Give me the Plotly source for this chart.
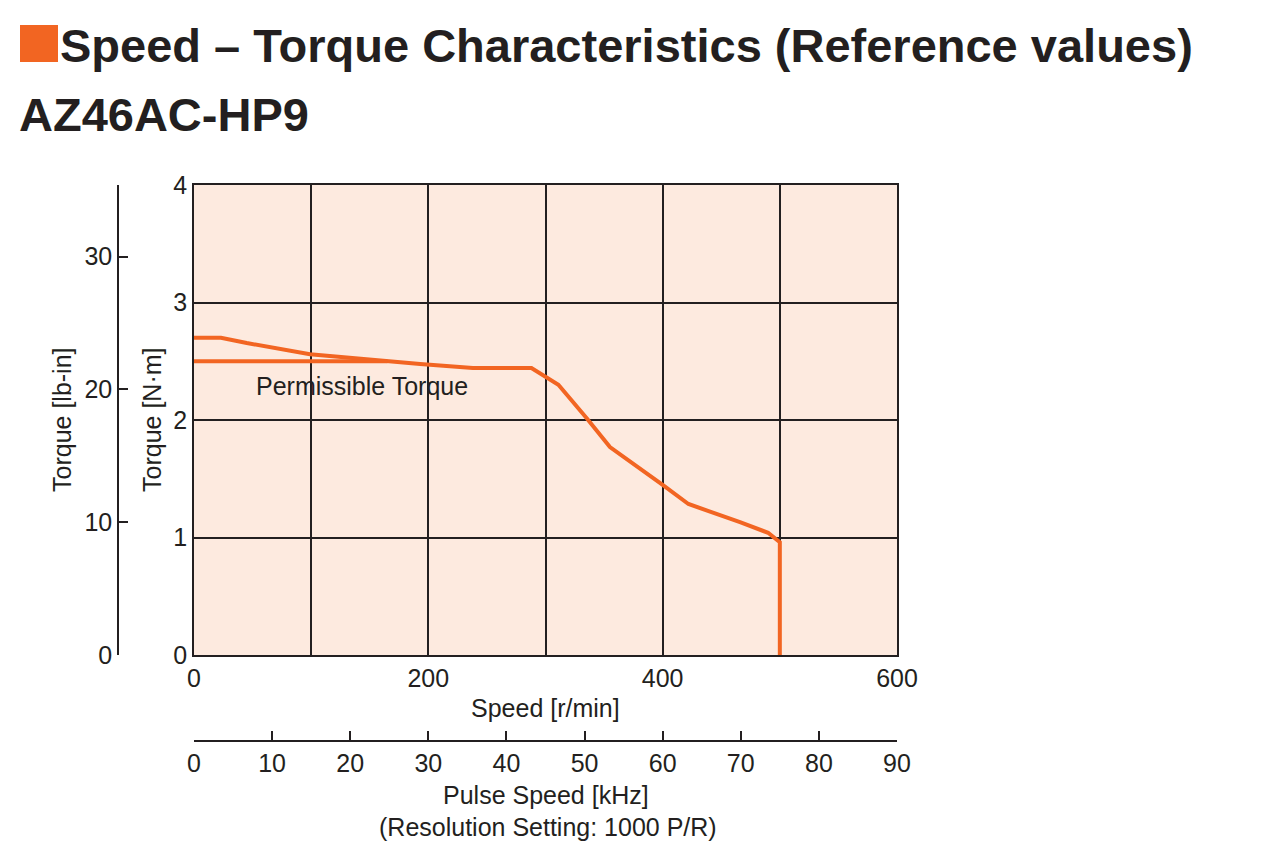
import plotly.graph_objects as go

# speed-torque curve
speed_rpm = [0, 23, 45, 99, 193, 238, 288, 298, 311, 335, 355, 400, 422, 466, 490, 500, 500]
torque_nm = [2.70, 2.70, 2.655, 2.56, 2.477, 2.443, 2.443, 2.383, 2.30, 2.017, 1.77, 1.447, 1.285, 1.13, 1.04, 0.96, 0]

# permissible torque line
perm_speed = [0, 165]
perm_torque = [2.5, 2.5]

speed_ticks = [0, 100, 200, 300, 400, 500, 600]
speed_labels = ["0", "", "200", "", "400", "", "600"]
torque_ticks = [0, 1, 2, 3, 4]
lbin_ticks = [0, 10, 20, 30]
pulse_ticks = [0, 10, 20, 30, 40, 50, 60, 70, 80, 90]

NM_TO_LBIN = 8.8507
W, H = 1280, 853
OFF = 8  # page body margin
ORANGE = "#F26522"
INK = "#231F20"
FONT = "Liberation Sans Narrow, Liberation Sans, Arial"

def px(x):
    return (x - OFF) / W

def py(y):
    return 1 - (y - OFF) / H

fig = go.Figure()

fig.add_trace(go.Scatter(
    x=speed_rpm, y=torque_nm, mode="lines",
    line=dict(color=ORANGE, width=4), showlegend=False, hoverinfo="skip",
))
fig.add_trace(go.Scatter(
    x=perm_speed, y=perm_torque, mode="lines",
    line=dict(color=ORANGE, width=4), showlegend=False, hoverinfo="skip",
))
# empty trace so the secondary axes get drawn
fig.add_trace(go.Scatter(x=[], y=[], xaxis="x2", yaxis="y2", showlegend=False))

tick_font = dict(family=FONT, size=25, color=INK)

fig.update_layout(
    width=W, height=H,
    margin=dict(l=0, r=0, t=0, b=0),
    paper_bgcolor="white",
    plot_bgcolor="#FDEADF",
    font=dict(family=FONT, color=INK),
    xaxis=dict(
        domain=[px(194), px(897)], range=[0, 600], automargin=False,
        tickmode="array", tickvals=speed_ticks, ticktext=speed_labels,
        showgrid=True, gridcolor=INK, gridwidth=1.5,
        showline=True, linecolor=INK, linewidth=1.5, mirror=True,
        ticks="", tickfont=tick_font, zeroline=False, fixedrange=True,
    ),
    yaxis=dict(
        domain=[py(655), py(185)], range=[0, 4], automargin=False,
        tickmode="array", tickvals=torque_ticks,
        showgrid=True, gridcolor=INK, gridwidth=1.5,
        showline=True, linecolor=INK, linewidth=1.5, mirror=True,
        ticks="", tickfont=tick_font, zeroline=False, fixedrange=True,
    ),
    xaxis2=dict(
        overlaying="x", anchor="free", position=py(741), side="bottom",
        range=[0, 90], automargin=False, tickmode="array", tickvals=pulse_ticks,
        showgrid=False, zeroline=False,
        showline=True, linecolor=INK, linewidth=1.5,
        ticks="inside", ticklen=9, tickwidth=1.5, tickcolor=INK,
        tickfont=tick_font, fixedrange=True,
    ),
    yaxis2=dict(
        overlaying="y", anchor="free", position=px(118), side="left",
        range=[0, 4 * NM_TO_LBIN], automargin=False,
        tickmode="array", tickvals=lbin_ticks,
        showgrid=False, zeroline=False,
        showline=True, linecolor=INK, linewidth=1.5,
        ticks="inside", ticklen=9, tickwidth=1.5, tickcolor=INK,
        tickfont=tick_font, fixedrange=True,
    ),
)

# title square
fig.add_shape(type="rect", xref="paper", yref="paper",
              x0=px(20), x1=px(58), y0=py(62), y1=py(25),
              fillcolor=ORANGE, line=dict(width=0))

ann = [
    dict(text="<b>Speed – Torque Characteristics (Reference values)</b>",
         x=px(58), y=py(45), xanchor="left", yanchor="middle",
         font=dict(family="Liberation Sans", size=47, color=INK)),
    dict(text="<b>AZ46AC-HP9</b>",
         x=px(17), y=py(114), xanchor="left", yanchor="middle",
         font=dict(family="Liberation Sans", size=47, color=INK)),
    dict(text="Permissible Torque", x=px(362), y=py(386),
         xanchor="center", yanchor="middle",
         font=dict(family=FONT, size=25, color=INK)),
    dict(text="Speed [r/min]", x=px(545), y=py(708),
         xanchor="center", yanchor="middle",
         font=dict(family=FONT, size=25, color=INK)),
    dict(text="Pulse Speed [kHz]", x=px(546), y=py(795),
         xanchor="center", yanchor="middle",
         font=dict(family=FONT, size=25, color=INK)),
    dict(text="(Resolution Setting: 1000 P/R)", x=px(548), y=py(827),
         xanchor="center", yanchor="middle",
         font=dict(family=FONT, size=25, color=INK)),
    dict(text="Torque [lb-in]", x=px(62), y=py(420), textangle=-90,
         xanchor="center", yanchor="middle",
         font=dict(family=FONT, size=25, color=INK)),
    dict(text="Torque [N·m]", x=px(152), y=py(420), textangle=-90,
         xanchor="center", yanchor="middle",
         font=dict(family=FONT, size=25, color=INK)),
]
for a in ann:
    fig.add_annotation(xref="paper", yref="paper", showarrow=False, **a)

fig.write_html("out.html")
